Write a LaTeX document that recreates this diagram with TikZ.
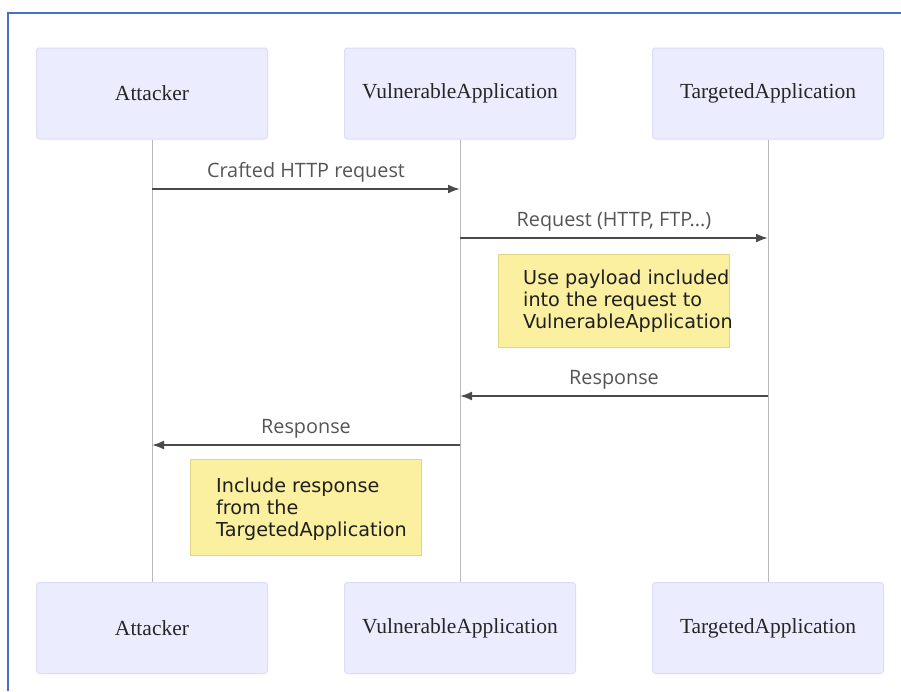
\documentclass[tikz,border=0pt]{standalone}
\usepackage{fontspec}
\setmainfont{Liberation Serif}
\newfontfamily\msgfont{Open Sans}
\newfontfamily\notefont{DejaVu Sans}
\usetikzlibrary{arrows.meta}
\definecolor{actfill}{HTML}{ECECFF}
\definecolor{actdraw}{HTML}{DCDCF6}
\definecolor{notefill}{HTML}{FBEFA0}
\definecolor{notedraw}{HTML}{E0D784}
\definecolor{lifeline}{HTML}{B8B8B8}
\definecolor{msgline}{HTML}{4A4A4A}
\definecolor{msgtext}{HTML}{555555}
\definecolor{frameblue}{HTML}{4472C4}
\tikzset{
  actor/.style={draw=actdraw, fill=actfill, rounded corners=3pt, line width=1pt,
    minimum width=231pt, minimum height=91pt, inner sep=0pt,
    font=\fontsize{21.5}{24}\selectfont, text=black!85},
  lifel/.style={draw=lifeline, line width=1pt},
  msg/.style={draw=msgline, line width=2pt, -{Latex[length=12pt,width=9pt]}},
  msglabel/.style={font=\msgfont\fontsize{19.8}{22}\selectfont, text=msgtext, inner sep=0pt},
  notebox/.style={draw=notedraw, fill=notefill, line width=1pt,
    minimum width=231pt, inner sep=0pt},
  notetext/.style={font=\notefont\fontsize{19.2}{22}\selectfont, text=black!88, align=left, inner sep=0pt},
  frameline/.style={draw=frameblue, line width=2pt}
}
\begin{document}
\begin{tikzpicture}[x=1pt,y=-1pt]
\useasboundingbox (0,0) rectangle (901,691);
\fill[white] (0,0) rectangle (901,691);
\draw[frameline] (7.5,691) -- (7.5,13) -- (901,13);
% actors
\node[actor] (at) at (152,93.5) {Attacker};
\node[actor] (va) at (460,93.5) {VulnerableApplication};
\node[actor] (ta) at (768,93.5) {TargetedApplication};
\node[actor] (ab) at (152,628) {Attacker};
\node[actor] (vb) at (460,628) {VulnerableApplication};
\node[actor] (tb) at (768,628) {TargetedApplication};
% lifelines
\draw[lifel] (at.south) -- (ab.north);
\draw[lifel] (va.south) -- (vb.north);
\draw[lifel] (ta.south) -- (tb.north);
% messages
\coordinate (m1a) at (152,189); \coordinate (m1b) at (460,189);
\coordinate (m2a) at (460,238); \coordinate (m2b) at (768,238);
\coordinate (m3a) at (768,396); \coordinate (m3b) at (460,396);
\coordinate (m4a) at (460,445); \coordinate (m4b) at (152,445);
\draw[msg] (m1a) -- (m1b);
\draw[msg] (m2a) -- (m2b);
\draw[msg] (m3a) -- (m3b);
\draw[msg] (m4a) -- (m4b);
\node[msglabel] (l1) at (306,172) {Crafted HTTP request};
\node[msglabel] (l2) at (614,222) {Request (HTTP, FTP...)};
\node[msglabel] (l3) at (614,380) {Response};
\node[msglabel] (l4) at (306,429) {Response};
% notes
\node[notebox, minimum height=93pt] (n1) at (613.5,300.5) {};
\node[notetext, anchor=west] (t1) at (523,301) {Use payload included\\into the request to\\VulnerableApplication};
\node[notebox, minimum height=96pt] (n2) at (305.5,507) {};
\node[notetext, anchor=west] (t2) at (216,509) {Include response\\from the\\TargetedApplication};
\end{tikzpicture}
\end{document}
